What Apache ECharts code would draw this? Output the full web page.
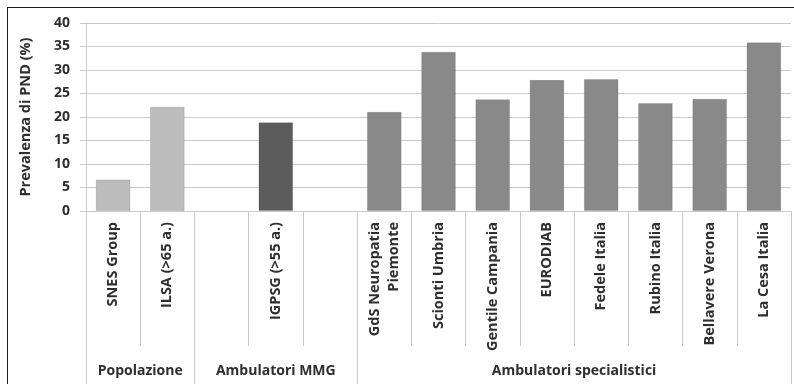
<!DOCTYPE html>
<html>
<head>
<meta charset="utf-8">
<script src="https://cdn.jsdelivr.net/npm/echarts@6/dist/echarts.min.js"></script>
<style>
  html, body { margin: 0; padding: 0; background: #fff; overflow: hidden; }
  #frame { position: absolute; left: 7px; top: 7px; width: 830px; height: 430px; border: 1.5px solid #1c1c1c; }
  #chart { position: absolute; left: 0; top: 0; width: 794px; height: 384px; }
</style>
</head>
<body>
<div id="frame"></div>
<div id="chart"></div>
<script>
// Studies (empty strings are spacer slots between setting groups)
const categories = [
  'SNES Group', 'ILSA (>65 a.)', '', 'IGPSG (>55 a.)', '',
  'GdS Neuropatia\nPiemonte', 'Scionti Umbria', 'Gentile Campania', 'EURODIAB',
  'Fedele Italia', 'Rubino Italia', 'Bellavere Verona', 'La Cesa Italia'
];
// Prevalence of painful diabetic neuropathy (%)
const prevalence = [6.7, 22.2, null, 18.9, null, 21.1, 33.9, 23.8, 27.9, 28.1, 23.0, 23.9, 35.9];
// Setting groups and how many slots each one spans
const groupNames = ['Popolazione', 'Ambulatori MMG', 'Ambulatori specialistici'];
const groupSpans = [2, 3, 8];
// Value axis
const yMin = 0, yMax = 40, yStep = 5;

const groupColors = ['#bcbcbc', '#5c5c5c', '#898989'];
const textColor = '#2e2e2e';
const lineColor = '#c9c9c9';
const font = '"Open Sans", "Noto Sans", sans-serif';

// group index of every slot
const slotGroup = [];
groupSpans.forEach((s, g) => { for (let i = 0; i < s; i++) slotGroup.push(g); });

// half-slot axis used for group labels and group separators
const halfCount = categories.length * 2 + 1;
const groupAxisData = new Array(halfCount).fill('');
const boundaryIdx = new Set([0]);
let start = 0;
groupSpans.forEach((s, g) => {
  groupAxisData[start * 2 + s] = groupNames[g];
  start += s;
  boundaryIdx.add(start * 2);
});

const chart = echarts.init(document.getElementById('chart'), null, { renderer: 'canvas' });
chart.setOption({
  animation: false,
  backgroundColor: 'transparent',
  grid: { left: 86, right: -4, top: 23, bottom: 173, containLabel: false },
  xAxis: [
    {
      type: 'category',
      data: categories,
      position: 'bottom',
      axisLine: { show: true, lineStyle: { color: lineColor, width: 1 } },
      axisTick: { show: true, interval: 0, length: 135, lineStyle: { color: lineColor, width: 1 } },
      axisLabel: {
        interval: 0, rotate: 90, margin: 11, align: 'right',
        color: textColor, fontFamily: font, fontWeight: 'bold', fontSize: 14.5, lineHeight: 19
      }
    },
    {
      type: 'category',
      data: groupAxisData,
      boundaryGap: false,
      position: 'bottom',
      axisLine: { show: false },
      axisTick: {
        show: true, length: 180,
        interval: (i) => boundaryIdx.has(i),
        lineStyle: { color: lineColor, width: 1 }
      },
      axisLabel: {
        interval: 0, margin: 153,
        color: textColor, fontFamily: font, fontWeight: 'bold', fontSize: 14
      }
    }
  ],
  yAxis: {
    type: 'value',
    min: yMin, max: yMax, interval: yStep,
    name: 'Prevalenza di PND (%)',
    nameLocation: 'middle',
    nameGap: 53,
    nameTextStyle: { color: textColor, fontFamily: font, fontWeight: 'bold', fontSize: 14.5 },
    axisLine: { show: true, lineStyle: { color: lineColor, width: 1 } },
    axisTick: { show: true, length: 6, lineStyle: { color: lineColor } },
    axisLabel: { margin: 16, color: textColor, fontFamily: font, fontWeight: 'bold', fontSize: 14 },
    splitLine: { show: true, lineStyle: { color: lineColor, width: 1 } }
  },
  series: [{
    type: 'bar',
    xAxisIndex: 0,
    barWidth: '64%',
    data: prevalence.map((v, i) => ({
      value: v,
      itemStyle: { color: groupColors[slotGroup[i]], borderColor: 'rgba(0,0,0,0.12)', borderWidth: 1 }
    }))
  }]
});
</script>
</body>
</html>
